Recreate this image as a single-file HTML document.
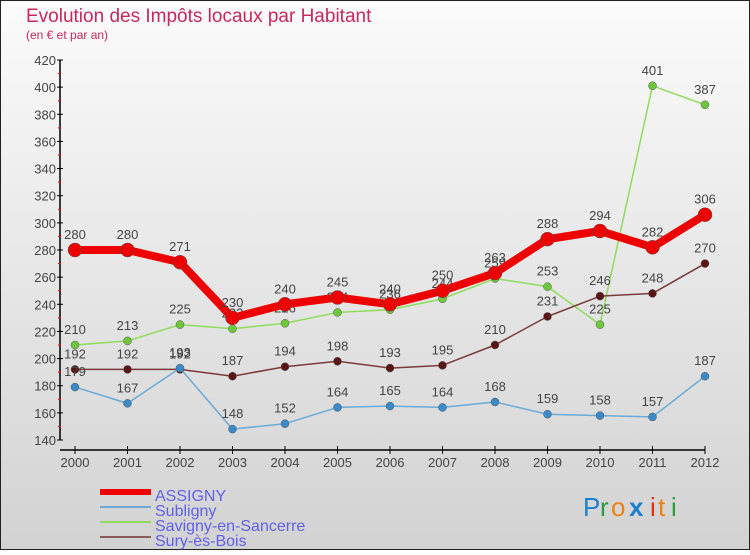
<!DOCTYPE html>
<html><head><meta charset="utf-8"><style>
body{margin:0;width:750px;height:550px;overflow:hidden;font-family:"Liberation Sans",sans-serif}
</style></head><body>
<svg width="750" height="550" xmlns="http://www.w3.org/2000/svg">
<defs><linearGradient id="bg" x1="0" y1="0" x2="0" y2="1"><stop offset="0" stop-color="#fbfbfb"/><stop offset="1" stop-color="#d2d2d2"/></linearGradient></defs>
<rect x="0.5" y="0.5" width="749" height="549" fill="url(#bg)" stroke="#222"/>
<text x="26" y="22" font-size="19" fill="#c8285a">Evolution des Impôts locaux par Habitant</text>
<text x="26" y="39" font-size="12" fill="#c8285a">(en € et par an)</text>
<g id="axes"></g>
<g id="series"></g>
<g id="legend"></g>
<g font-size="26">
<text x="583" y="516" fill="#1a7fd0">P</text><text x="600" y="516" fill="#2a9a3a">r</text><text x="611" y="516" fill="#f08010">o</text><text x="629" y="516" fill="#1a7fd0" font-weight="bold">x</text><text x="650" y="516" fill="#e03010">i</text><text x="658" y="516" fill="#f08010">t</text><text x="671" y="516" fill="#2a9a3a">i</text>
</g>
</svg>
<script>
const years=[2000,2001,2002,2003,2004,2005,2006,2007,2008,2009,2010,2011,2012];
const yTicks=[140,160,180,200,220,240,260,280,300,320,340,360,380,400,420];
const assigny=[280,280,271,230,240,245,240,250,263,288,294,282,306];
const subligny=[179,167,193,148,152,164,165,164,168,159,158,157,187];
const savigny=[210,213,225,222,226,234,236,244,259,253,225,401,387];
const sury=[192,192,192,187,194,198,193,195,210,231,246,248,270];
const NS='http://www.w3.org/2000/svg';
function X(i){return 75+i*52.5;}
function Y(v){return 440-(v-140)*380/280;}
function mk(tag,attrs,parent){const e=document.createElementNS(NS,tag);for(const k in attrs)e.setAttribute(k,attrs[k]);parent.appendChild(e);return e;}
const ax=document.getElementById('axes');
let yl=mk('line',{x1:60,y1:60,x2:60,y2:440,stroke:'#000','stroke-width':1.5},ax);


let xl=mk('line',{x1:60,y1:450,x2:705,y2:450,stroke:'#000','stroke-width':1.5},ax);


yTicks.forEach((v,i)=>{
 mk('line',{x1:57,x2:63,y1:Y(v),y2:Y(v),stroke:'#000'},ax);
 if(i<yTicks.length-1)mk('line',{x1:58,x2:61,y1:Y(v+10),y2:Y(v+10),stroke:'#f00'},ax);
 const t=mk('text',{x:56,y:Y(v)+5,'text-anchor':'end','font-size':13,fill:'#444'},ax);
 t.textContent=v;
 
 
});
years.forEach((y,i)=>{
 mk('line',{x1:X(i),x2:X(i),y1:446,y2:454,stroke:'#000'},ax);
 const t=mk('text',{x:X(i),y:467,'text-anchor':'middle','font-size':13,fill:'#444'},ax);
 t.textContent=y;
 
 
});
const sg=document.getElementById('series');
const series=[
 {name:'savigny',data:savigny,c:'#8fdc5c',pc:'#6cc83a',w:1.5,r:4},
 {name:'sury',data:sury,c:'#7a3a3a',pc:'#5a1515',w:1.5,r:4},
 {name:'subligny',data:subligny,c:'#6aaad8',pc:'#3a8ac8',w:1.5,r:4},
 {name:'assigny',data:assigny,c:'#ee0000',pc:'#ee0000',w:8,r:7}
];
series.forEach(s=>{
 const g=mk('g',{},sg);
 
 
 const pl=mk('polyline',{points:s.data.map((v,i)=>X(i)+','+Y(v)).join(' '),fill:'none',stroke:s.c,'stroke-width':s.w,'stroke-linejoin':'round'},g);
 
 
 s.data.forEach((v,i)=>{
  const c=mk('circle',{cx:X(i),cy:Y(v),r:s.r,fill:s.pc,stroke:'#555','stroke-width':0.5},g);
  
  
  const t=mk('text',{x:X(i),y:Y(v)-11,'text-anchor':'middle','font-size':13,fill:'#444'},g);
  t.textContent=v;
  
  
 });
});
const lg=document.getElementById('legend');
const leg=[['ASSIGNY','#ee0000',6,496],['Subligny','#6aaad8',2,511],['Savigny-en-Sancerre','#8fdc5c',2,526],['Sury-ès-Bois','#8a5a5a',2,541]];
leg.forEach(l=>{
 const g=mk('g',{},lg);
 
 
 mk('line',{x1:100,x2:151,y1:l[3]-4,y2:l[3]-4,stroke:l[1],'stroke-width':l[2]},g);
 const t=mk('text',{x:155,y:l[3]+5,'font-size':16,fill:'#6060ee'},g);
 t.textContent=l[0];
});
</script>
</body></html>
